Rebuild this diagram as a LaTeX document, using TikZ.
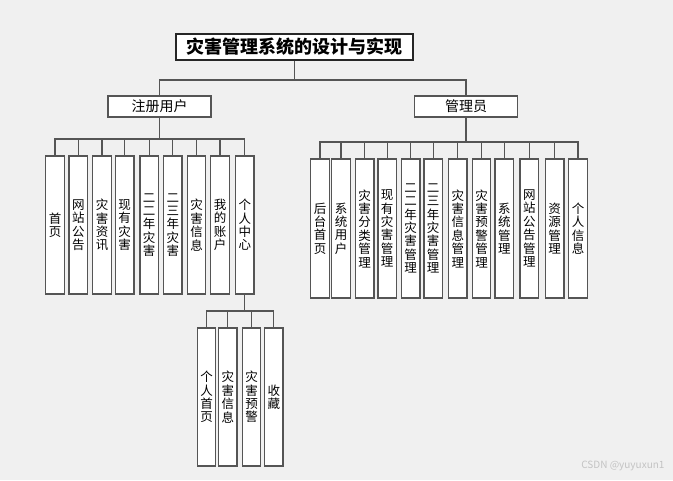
\documentclass[tikz,border=0pt]{standalone}
\usepackage{fontspec}
\setmainfont{Noto Sans CJK SC}
\usetikzlibrary{positioning}
\definecolor{bggray}{RGB}{240,240,240}
\definecolor{boxline}{RGB}{85,85,85}
\definecolor{markgray}{RGB}{195,195,195}
\tikzset{
  titlebox/.style={draw=black!85, fill=white, line width=1.2pt, minimum width=237pt, minimum height=26pt, inner sep=0pt, font=\fontsize{18}{20}\selectfont\bfseries},
  rolebox/.style={draw=boxline, fill=white, line width=1.2pt, minimum width=103pt, minimum height=21pt, inner sep=0pt, font=\fontsize{14}{16}\selectfont},
  leafbox/.style={draw=boxline, fill=white, line width=1.2pt, minimum width=18.5pt, minimum height=138pt, inner sep=0pt, align=center, font=\fontsize{12.5}{13.4}\selectfont},
  link/.style={draw=boxline, line width=1.2pt}
}
\begin{document}
\begin{tikzpicture}[x=1pt,y=-1pt]
  \fill[bggray] (0,0) rectangle (673,480);
  \useasboundingbox (0,0) rectangle (673,480);
  % Top and roles
  \node[titlebox] (title) at (294.5,47) {灾害管理系统的设计与实现};
  \node[rolebox] (reg) at (159.5,106.5) {注册用户};
  \node[rolebox] (adm) at (466,106.5) {管理员};
  % Registered user functions
  \node[leafbox] (u1) at (55,225) {首\\页};
  \node[leafbox] (u2) at (78.3,225) {网\\站\\公\\告};
  \node[leafbox] (u3) at (102,225) {灾\\害\\资\\讯};
  \node[leafbox] (u4) at (124.7,225) {现\\有\\灾\\害};
  \node[leafbox] (u5) at (149.2,225) {二\\二\\年\\灾\\害};
  \node[leafbox] (u6) at (172.8,225) {二\\三\\年\\灾\\害};
  \node[leafbox] (u7) at (196.5,225) {灾\\害\\信\\息};
  \node[leafbox] (u8) at (220,225) {我\\的\\账\\户};
  \node[leafbox] (u9) at (244.8,225) {个\\人\\中\\心};
  % Personal center
  \node[leafbox] (p1) at (206.5,397) {个\\人\\首\\页};
  \node[leafbox] (p2) at (227.8,397) {灾\\害\\信\\息};
  \node[leafbox] (p3) at (251.5,397) {灾\\害\\预\\警};
  \node[leafbox] (p4) at (273.8,397) {收\\藏};
  % Administrator functions
  \node[leafbox, minimum height=139pt] (a1) at (320,228.5) {后\\台\\首\\页};
  \node[leafbox, minimum height=139pt] (a2) at (341,228.5) {系\\统\\用\\户};
  \node[leafbox, minimum height=139pt] (a3) at (364.7,228.5) {灾\\害\\分\\类\\管\\理};
  \node[leafbox, minimum height=139pt] (a4) at (387.2,228.5) {现\\有\\灾\\害\\管\\理};
  \node[leafbox, minimum height=139pt] (a5) at (410.7,228.5) {二\\二\\年\\灾\\害\\管\\理};
  \node[leafbox, minimum height=139pt] (a6) at (433.2,228.5) {二\\三\\年\\灾\\害\\管\\理};
  \node[leafbox, minimum height=139pt] (a7) at (457.8,228.5) {灾\\害\\信\\息\\管\\理};
  \node[leafbox, minimum height=139pt] (a8) at (481.5,228.5) {灾\\害\\预\\警\\管\\理};
  \node[leafbox, minimum height=139pt] (a9) at (504.3,228.5) {系\\统\\管\\理};
  \node[leafbox, minimum height=139pt] (a10) at (529.3,228.5) {网\\站\\公\\告\\管\\理};
  \node[leafbox, minimum height=139pt] (a11) at (554.7,228.5) {资\\源\\管\\理};
  \node[leafbox, minimum height=139pt] (a12) at (578,228.5) {个\\人\\信\\息};
  % Connectors
  \coordinate (topbus) at (294.5,80);
  \coordinate (regbus) at (159.5,139);
  \coordinate (admbus) at (466,142);
  \coordinate (perbus) at (244.8,311);
  \draw[link] (title.south) -- (topbus);
  \draw[link] (topbus) -| (reg.north);
  \draw[link] (topbus) -| (adm.north);
  \draw[link] (reg.south) -- (regbus);
  \foreach \n in {u1,u2,u3,u4,u5,u6,u7,u8,u9}
    \draw[link] (regbus) -| (\n.north);
  \draw[link] (adm.south) -- (admbus);
  \foreach \n in {a1,a2,a3,a4,a5,a6,a7,a8,a9,a10,a11,a12}
    \draw[link] (admbus) -| (\n.north);
  \draw[link] (u9.south) -- (perbus);
  \foreach \n in {p1,p2,p3,p4}
    \draw[link] (perbus) -| (\n.north);
  % Watermark
  \node[text=markgray, font=\fontsize{10}{12}\selectfont, anchor=east] (mark) at (668,466) {CSDN @yuyuxun1};
\end{tikzpicture}
\end{document}
